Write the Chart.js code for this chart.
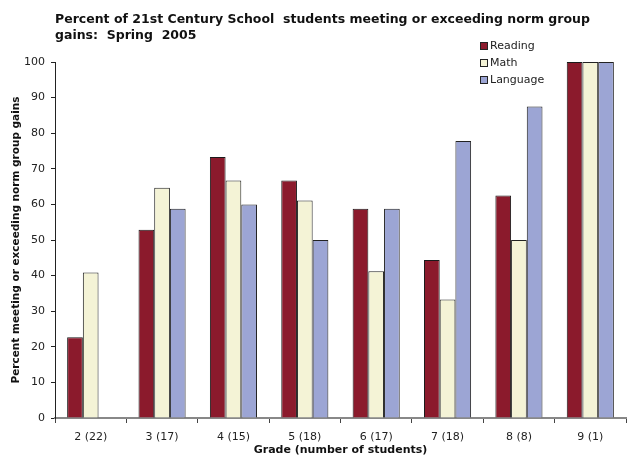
<!DOCTYPE html>
<html>
<head>
<meta charset="utf-8">
<script src="https://cdn.jsdelivr.net/npm/chart.js@4/dist/chart.umd.min.js"></script>
<style>
  html, body { margin: 0; padding: 0; background: #fff; }
  #wrap { width: 628px; height: 461px; }
</style>
</head>
<body>
<div id="wrap"><canvas id="chart" width="628" height="461"></canvas></div>
<script>
// grade labels (number of students)
const grades = ["2 (22)", "3 (17)", "4 (15)", "5 (18)", "6 (17)", "7 (18)", "8 (8)", "9 (1)"];
const reading = [22.7, 52.9, 73.3, 66.7, 58.8, 44.4, 62.5, 100];
const math = [40.9, 64.7, 66.7, 61.1, 41.2, 33.3, 50, 100];
const language = [null, 58.8, 60, 50, 58.8, 77.8, 87.5, 100];

const FONT = "'DejaVu Sans', Verdana, sans-serif";

// little square legend drawn over the top right of the plot
const boxLegend = {
  id: 'boxLegend',
  afterDraw(chart) {
    const ctx = chart.ctx;
    ctx.save();
    ctx.font = '11px ' + FONT;
    ctx.textBaseline = 'middle';
    chart.data.datasets.forEach((ds, i) => {
      const y = 46 + i * 17;
      ctx.fillStyle = ds.backgroundColor;
      ctx.fillRect(480, y - 4, 8, 8);
      ctx.strokeStyle = '#222';
      ctx.lineWidth = 1;
      ctx.strokeRect(480.5, y - 3.5, 7, 7);
      ctx.fillStyle = '#222';
      ctx.fillText(ds.label, 490, y);
    });
    ctx.restore();
  }
};

new Chart(document.getElementById('chart'), {
  type: 'bar',
  data: {
    labels: grades,
    datasets: [
      { label: 'Reading', data: reading, backgroundColor: '#8B1A2C', borderColor: '#1a1a1a', borderWidth: 1 },
      { label: 'Math', data: math, backgroundColor: '#F4F3D6', borderColor: '#222', borderWidth: 1 },
      { label: 'Language', data: language, backgroundColor: '#9CA5D4', borderColor: '#222', borderWidth: 1 }
    ]
  },
  options: {
    responsive: false,
    animation: false,
    datasets: { bar: { categoryPercentage: 0.66, barPercentage: 1 } },
    layout: { padding: { top: 0, right: 2, left: 8, bottom: 0 } },
    plugins: {
      legend: { display: false },
      tooltip: { enabled: false },
      title: {
        display: true,
        fullSize: false,
        text: ['Percent of 21st Century School  students meeting or exceeding norm group', 'gains:  Spring  2005'],
        align: 'start',
        color: '#111',
        font: { family: FONT, size: 12.5, weight: 'bold', lineHeight: 1.28 },
        padding: { top: 12, bottom: 18 }
      }
    },
    scales: {
      x: {
        grid: { display: true, drawOnChartArea: false, offset: true, color: '#444', tickLength: 5 },
        border: { color: '#888', width: 2 },
        ticks: { color: '#222', font: { family: FONT, size: 11 }, padding: 8 },
        title: { display: true, text: 'Grade (number of students)', color: '#111', font: { family: FONT, size: 11, weight: 'bold' }, padding: { top: 1 } },
        afterFit(scale) { scale.height = 43; }
      },
      y: {
        min: 0, max: 100,
        grid: { display: true, drawOnChartArea: false, color: '#222', tickLength: 4 },
        border: { color: '#222', width: 1 },
        ticks: { stepSize: 10, color: '#222', font: { family: FONT, size: 11 }, padding: 6 },
        title: { display: true, text: 'Percent meeting or exceeding norm group gains', color: '#111', font: { family: FONT, size: 10.5, weight: 'bold' }, padding: 2 },
        afterFit(scale) { scale.width = 47; }
      }
    }
  },
  plugins: [boxLegend]
});
</script>
</body>
</html>
